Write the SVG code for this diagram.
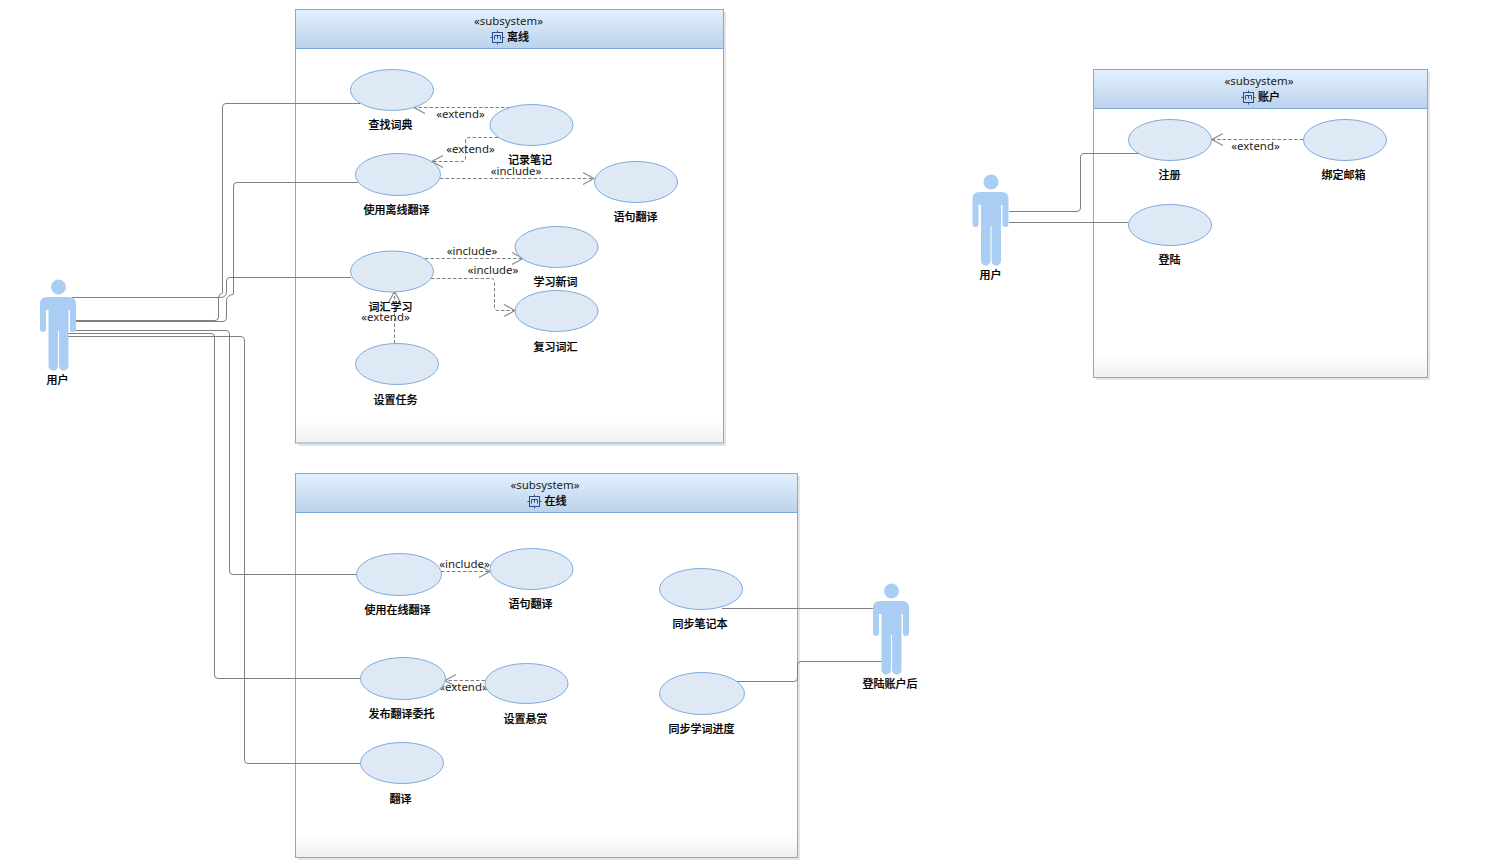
<svg xmlns="http://www.w3.org/2000/svg" width="1491" height="866" viewBox="0 0 1491 866">
<style>
text{font-family:"Noto Sans CJK SC","Noto Sans","Liberation Sans",sans-serif;font-size:11px;text-anchor:middle;fill:#000}
.lbl{font-weight:500;stroke:#000;stroke-width:.2}
.st{fill:#1c1c1c;font-size:11.4px;font-family:"Noto Sans","Liberation Sans","Noto Sans CJK SC",sans-serif}
.uc{fill:#dfe9f5;stroke:#7dabdf;stroke-width:1}
.actor{fill:#a9cdf3}
.fb{fill:#fff;stroke:none}
.fh{fill:url(#hdr);stroke:#7dabdf}
.fg{fill:url(#foot);stroke:none}
.fo{fill:none;stroke:#7dabdf}
.fs{fill:#e6e6e6;stroke:none}
.sol{fill:none;stroke:#808080;stroke-width:1}
.dep{fill:none;stroke:#808080;stroke-width:1;stroke-dasharray:3.5 2;marker-end:url(#open)}
.ico{fill:none;stroke:#2f4a8a;stroke-width:1}
</style>
<defs>
<linearGradient id="hdr" x1="0" y1="0" x2="0" y2="1"><stop offset="0" stop-color="#e2f1fe"/><stop offset="1" stop-color="#bbd2eb"/></linearGradient>
<linearGradient id="foot" x1="0" y1="0" x2="0" y2="1"><stop offset="0" stop-color="#fff"/><stop offset="1" stop-color="#efefef"/></linearGradient>
<marker id="open" markerUnits="userSpaceOnUse" markerWidth="14" markerHeight="16" refX="12.5" refY="8" orient="auto"><path d="M1.5,2 L12.5,8 L1.5,14" fill="none" stroke="#8c8c8c" stroke-width="1.2"/></marker>
<g id="actorShape">
<circle cx="18.5" cy="8" r="7.5"/>
<path d="M7,18 H29 Q36,18 36,25 V50 A3,3 0 0 1 30,50 V31 H28.5 V87 A4.75,4.75 0 0 1 19,87 V52 H18 V87 A4.75,4.75 0 0 1 8.5,87 V31 H6 V50 A3,3 0 0 1 0,50 V25 Q0,18 7,18 Z"/>
</g>
<g id="subIcon" class="ico">
<rect x="-5" y="-5" width="10" height="10"/>
<path d="M-7,0 H-5 M5,0 H7 M0,-7 V-5 M0,5 V7 M-3,2 V-2 H3 V2 M0,-2 V1"/>
</g>
</defs>
<rect width="1491" height="866" fill="#fff"/>

<g id="frame-offline">
<rect class="fs" x="298" y="12" width="428" height="434"/>
<rect class="fb" x="295.5" y="9.5" width="428" height="433.500"/>
<rect class="fg" x="296" y="420" width="427" height="23"/>
<rect class="fo" x="295.5" y="9.5" width="428" height="433.500"/>
<rect class="fh" x="295.5" y="9.5" width="428" height="39"/>
<text class="st" x="508.500" y="25">«subsystem»</text>
<use href="#subIcon" x="497.500" y="37.500"/>
<text class="lbl" x="518" y="41">离线</text>
</g>
<g id="frame-online">
<rect class="fs" x="298" y="476" width="502" height="384"/>
<rect class="fb" x="295.5" y="473.5" width="502" height="384"/>
<rect class="fg" x="296" y="835" width="501" height="22.500"/>
<rect class="fo" x="295.5" y="473.5" width="502" height="384"/>
<rect class="fh" x="295.5" y="473.5" width="502" height="39"/>
<text class="st" x="545" y="489">«subsystem»</text>
<use href="#subIcon" x="534.500" y="501.500"/>
<text class="lbl" x="555.500" y="505">在线</text>
</g>
<g id="frame-account">
<rect class="fs" x="1096" y="72" width="334" height="308"/>
<rect class="fb" x="1093.5" y="69.5" width="334" height="308"/>
<rect class="fg" x="1094" y="355" width="333" height="22.500"/>
<rect class="fo" x="1093.5" y="69.5" width="334" height="308"/>
<rect class="fh" x="1093.5" y="69.5" width="334" height="39"/>
<text class="st" x="1259" y="85">«subsystem»</text>
<use href="#subIcon" x="1248.500" y="97.500"/>
<text class="lbl" x="1269" y="101">账户</text>
</g>

<g id="connectors">
<path class="sol" d="M76,320.5 H215 Q218.500,320.500 218.500,317 V298 Q218.500,294 222.500,293 V107 Q222.500,103.500 226,103.500 H360"/>
<path class="sol" d="M76,321.5 H223 Q226.500,321.500 226.500,318 V300 Q226.500,296 233.500,294 V186 Q233.500,182.500 237,182.500 H358"/>
<path class="sol" d="M72,297.500 H220 Q226.500,297.500 226.500,292 V281 Q226.500,277.500 230,277.500 H351"/>
<path class="sol" d="M70,330.500 H226 Q229.500,330.500 229.500,334 V571 Q229.500,574.500 233,574.500 H357"/>
<path class="sol" d="M68,333.500 H211 Q214.500,333.500 214.500,337 V675 Q214.500,678.500 218,678.500 H360"/>
<path class="sol" d="M68,336.500 H241 Q244.500,336.500 244.500,340 V760 Q244.500,763.500 248,763.500 H360"/>
<path class="sol" d="M722,608.500 H873"/>
<path class="sol" d="M737,681.500 H794 Q797.500,681.500 797.500,678 V665 Q797.500,661.500 801,661.500 H882"/>
<path class="sol" d="M1009,211.500 H1077 Q1080.500,211.500 1080.500,208 V157 Q1080.500,153.500 1084,153.500 H1140"/>
<path class="sol" d="M1009,222.500 H1128"/>
<path class="dep" d="M510,107.500 H414"/>
<path class="dep" d="M498,137.500 H469 Q465.500,137.500 465.500,141 V158 Q465.500,161.500 462,161.500 H432"/>
<path class="dep" d="M440,178.500 H594"/>
<path class="dep" d="M425,258.500 H523"/>
<path class="dep" d="M431,278.500 H491 Q494.500,278.500 494.500,282 V307 Q494.500,310.500 498,310.500 H515"/>
<path class="dep" d="M394.500,343.500 V291.500"/>
<path class="dep" d="M441,571.500 H490"/>
<path class="dep" d="M485,680.500 H445"/>
<path class="dep" d="M1303,139.500 H1212"/>
<text class="st" x="460.500" y="118">«extend»</text>
<text class="st" x="470.500" y="153">«extend»</text>
<text class="st" x="516" y="175">«include»</text>
<text class="st" x="472" y="255">«include»</text>
<text class="st" x="493" y="274">«include»</text>
<text class="st" x="385.500" y="321">«extend»</text>
<text class="st" x="464.500" y="568">«include»</text>
<text class="st" x="463.500" y="691">«extend»</text>
<text class="st" x="1255.500" y="150">«extend»</text>
</g>

<g id="actor-user"><use class="actor" href="#actorShape" x="40" y="279"/><text class="lbl" x="57.500" y="384">用户</text></g>
<g id="actor-loggedin"><use class="actor" href="#actorShape" x="873" y="583"/><text class="lbl" x="890" y="688">登陆账户后</text></g>
<g id="actor-user2"><use class="actor" href="#actorShape" x="972.500" y="174"/><text class="lbl" x="990.500" y="279">用户</text></g>

<g id="uc-lookup"><ellipse class="uc" cx="392" cy="90" rx="41.500" ry="20.500"/><text class="lbl" x="390.500" y="129">查找词典</text></g>
<g id="uc-notes"><ellipse class="uc" cx="531.500" cy="125" rx="41.500" ry="20.500"/><text class="lbl" x="530" y="164">记录笔记</text></g>
<g id="uc-offline"><ellipse class="uc" cx="398" cy="174.500" rx="42.500" ry="21"/><text class="lbl" x="396.500" y="214">使用离线翻译</text></g>
<g id="uc-sentence"><ellipse class="uc" cx="636" cy="182" rx="41.500" ry="20.500"/><text class="lbl" x="635.500" y="221">语句翻译</text></g>
<g id="uc-vocab"><ellipse class="uc" cx="392" cy="271.500" rx="41.500" ry="20.500"/><text class="lbl" x="390.500" y="311">词汇学习</text></g>
<g id="uc-new"><ellipse class="uc" cx="556.500" cy="247" rx="41.500" ry="20.500"/><text class="lbl" x="555.500" y="286">学习新词</text></g>
<g id="uc-review"><ellipse class="uc" cx="556.500" cy="311" rx="41.500" ry="20.500"/><text class="lbl" x="555.500" y="351">复习词汇</text></g>
<g id="uc-task"><ellipse class="uc" cx="397" cy="364" rx="41.500" ry="20.500"/><text class="lbl" x="395.500" y="404">设置任务</text></g>
<g id="uc-online"><ellipse class="uc" cx="399" cy="574.500" rx="42.500" ry="21"/><text class="lbl" x="397.500" y="614">使用在线翻译</text></g>
<g id="uc-sentence2"><ellipse class="uc" cx="531.500" cy="569" rx="41.500" ry="20.500"/><text class="lbl" x="530.500" y="608">语句翻译</text></g>
<g id="uc-publish"><ellipse class="uc" cx="403" cy="678.500" rx="42.500" ry="21"/><text class="lbl" x="401.500" y="718">发布翻译委托</text></g>
<g id="uc-bounty"><ellipse class="uc" cx="526.500" cy="683.500" rx="41.500" ry="20"/><text class="lbl" x="525.500" y="723">设置悬赏</text></g>
<g id="uc-translate"><ellipse class="uc" cx="402" cy="763" rx="41.500" ry="20.500"/><text class="lbl" x="400.500" y="803">翻译</text></g>
<g id="uc-syncnote"><ellipse class="uc" cx="701" cy="589" rx="41.500" ry="20.500"/><text class="lbl" x="700" y="628">同步笔记本</text></g>
<g id="uc-syncprog"><ellipse class="uc" cx="702" cy="693.500" rx="42.500" ry="21"/><text class="lbl" x="701.500" y="733">同步学词进度</text></g>
<g id="uc-register"><ellipse class="uc" cx="1170" cy="140" rx="41.500" ry="20.500"/><text class="lbl" x="1169.500" y="179">注册</text></g>
<g id="uc-email"><ellipse class="uc" cx="1345" cy="140" rx="41.500" ry="20.500"/><text class="lbl" x="1343.500" y="179">绑定邮箱</text></g>
<g id="uc-login"><ellipse class="uc" cx="1170" cy="225" rx="41.500" ry="20.500"/><text class="lbl" x="1169.500" y="264">登陆</text></g>
</svg>
